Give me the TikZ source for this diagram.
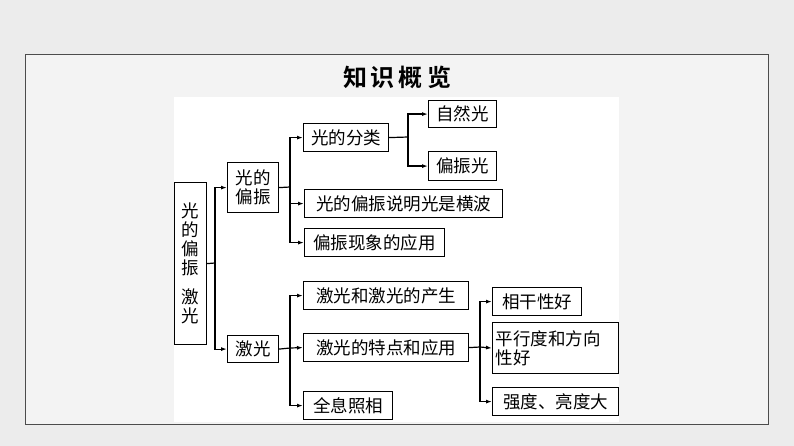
\documentclass[tikz,border=0pt]{standalone}
\usepackage{fontspec}
\setmainfont{Noto Sans CJK SC}
\newfontfamily\titlefont{Noto Sans CJK SC Bold}
\usetikzlibrary{arrows.meta}
\definecolor{pagebg}{HTML}{ECECEC}
\definecolor{framebg}{HTML}{F3F3F3}
\tikzset{
  item/.style={draw,line width=1.2pt,fill=white,inner sep=2pt,font=\fontsize{17.5}{19}\selectfont,align=left},
  link/.style={line width=1.2pt},
  arr/.style={link,-{Latex[length=6pt,width=4pt]}}
}
\begin{document}
\begin{tikzpicture}[x=1pt,y=-1pt]
\fill[pagebg] (0,0) rectangle (794,446);
\useasboundingbox (0,0) rectangle (794,446);
\filldraw[fill=framebg,draw=black!70,line width=0.8pt] (25,54) rectangle (768,424);
\fill[white] (174,97) rectangle (619,422);
\node[font=\titlefont\fontsize{24}{26}\selectfont] (title) at (397,77) {知\,识\,概\,览};
% tree
\node[item,minimum width=32pt,minimum height=162pt,inner sep=1pt,align=center,anchor=north west] (root) at (174,182) {光\\的\\偏\\振\\[10pt]激\\光};
\node[item,anchor=north west,minimum width=51pt,minimum height=50pt,align=center,inner sep=1pt] (pol) at (227,162) {光的\\偏振};
\node[item,anchor=north west,minimum width=51pt,minimum height=27pt] (laser) at (227,335) {激光};
\node[item,anchor=north west,minimum width=85pt,minimum height=28pt] (kind) at (303,123) {光的分类};
\node[item,anchor=north west,minimum width=68pt,minimum height=27pt] (natural) at (428,100) {自然光};
\node[item,anchor=north west,minimum width=68pt,minimum height=29pt] (polar) at (428,151) {偏振光};
\node[item,anchor=north west,minimum width=198pt,minimum height=28pt] (wave) at (304,189) {光的偏振说明光是横波};
\node[item,anchor=north west,minimum width=140pt,minimum height=28pt] (use) at (304,228) {偏振现象的应用};
\node[item,anchor=north west,minimum width=165pt,minimum height=28pt] (make) at (303,281) {激光和激光的产生};
\node[item,anchor=north west,minimum width=165pt,minimum height=28pt] (feat) at (303,333) {激光的特点和应用};
\node[item,anchor=north west,minimum width=89pt,minimum height=28pt] (holo) at (303,391) {全息照相};
\node[item,anchor=north west,minimum width=89pt,minimum height=28pt] (coh) at (492,287) {相干性好};
\node[item,anchor=north west,minimum width=126pt,minimum height=51pt,text width=120pt] (par) at (492,322) {平行度和方向\\性好};
\node[item,anchor=north west,minimum width=126pt,minimum height=28pt] (bright) at (492,387) {强度、亮度大};
% connectors
\draw[link] (root.east) -- (215,263);
\draw[arr] (215,263) |- (pol.west);
\draw[arr] (215,263) |- (laser.west);
\draw[link] (pol.east) -- (290,187);
\draw[arr] (290,187) |- (kind.west);
\draw[arr] (290,187) |- (wave.west);
\draw[arr] (290,187) |- (use.west);
\draw[link] (kind.east) -- (408,137);
\draw[arr] (408,137) |- (natural.west);
\draw[arr] (408,137) |- (polar.west);
\draw[link] (laser.east) -- (290,348);
\draw[arr] (290,348) |- (make.west);
\draw[arr] (290,348) -- (feat.west);
\draw[arr] (290,348) |- (holo.west);
\draw[link] (feat.east) -- (480,347);
\draw[arr] (480,347) |- (coh.west);
\draw[arr] (480,347) -- (par.west);
\draw[arr] (480,347) |- (bright.west);
\end{tikzpicture}
\end{document}
